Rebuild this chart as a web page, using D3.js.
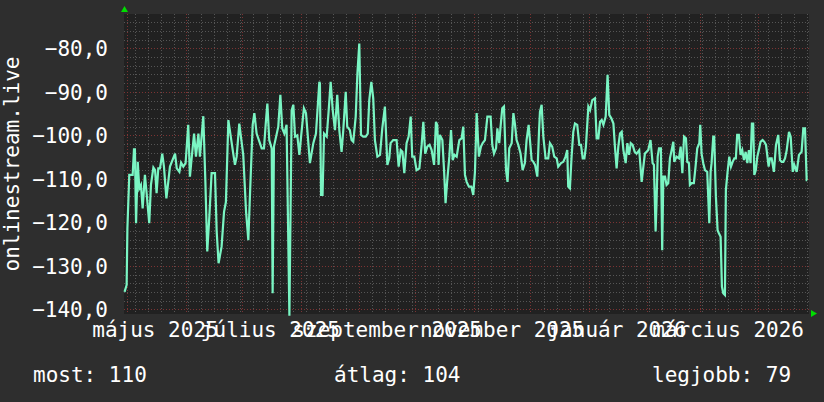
<!DOCTYPE html>
<html>
<head>
<meta charset="utf-8">
<script src="https://cdn.jsdelivr.net/npm/d3@7"></script>
<style>
  html, body { margin: 0; padding: 0; background: #2e2e2e; }
  svg { display: block; }
  text { font-family: "DejaVu Sans Mono", monospace; fill: #ffffff; }
</style>
</head>
<body>
<script>
// ---------------- DATA ----------------
const seriesName = "onlinestream.live";
const windowStart = "2025-04-29T07:00:00Z";
const windowEnd = "2026-04-27T22:00:00Z";
// sample times, in days after windowStart
const dayOffsets = [
  0.3, 1.4, 1.8, 2.8, 4.6, 5.3, 5.8, 6.4, 7.3, 8.1, 9.0, 9.9, 11.1, 12.0, 13.4, 14.3, 15.6, 16.5, 17.3, 18.2,
  19.1, 20.3, 21.2, 22.5, 23.5, 24.4, 27.1, 28.0, 29.4, 30.3, 31.5, 32.7, 34.1, 35.0, 35.9, 37.2, 38.2, 39.5, 40.3, 42.1,
  43.2, 44.2, 45.3, 46.5, 48.3, 49.2, 50.2, 51.8, 53.1, 54.1, 55.4, 58.0, 58.9, 59.8, 61.2, 63.3, 64.8, 66.0, 66.9, 68.3,
  69.2, 70.4, 73.1, 74.3, 75.2, 76.1, 77.1, 78.4, 78.9, 79.6, 81.9, 83.0, 84.0, 85.1, 86.3, 87.8, 89.0, 89.9, 90.8, 92.0,
  93.1, 94.0, 95.5, 96.6, 98.7, 100.5, 101.9, 103.7, 104.0, 104.6, 105.4, 106.2, 107.6, 108.6, 109.7, 110.8, 112.0, 113.2, 114.3, 115.5,
  116.4, 117.7, 118.5, 119.9, 120.8, 121.7, 123.0, 123.9, 124.9, 125.8, 127.0, 128.3, 129.4, 130.2, 131.3, 132.3, 133.2, 134.5, 135.9, 137.1,
  138.5, 139.8, 140.8, 141.5, 142.9, 144.7, 145.8, 146.9, 147.8, 148.8, 150.0, 151.1, 152.2, 153.0, 154.1, 155.3, 156.8, 158.0, 158.9, 159.9,
  161.0, 162.2, 163.3, 164.6, 165.6, 166.3, 167.0, 167.7, 169.0, 169.9, 170.7, 171.6, 172.7, 173.6, 174.5, 175.4, 176.6, 178.0, 179.2, 180.1,
  181.0, 181.9, 183.1, 184.4, 185.4, 186.3, 187.2, 188.4, 189.5, 190.4, 191.6, 192.9, 194.6, 195.5, 196.4, 197.5, 198.2, 199.2, 199.9, 200.8,
  201.7, 202.8, 203.6, 204.5, 205.8, 206.7, 207.5, 208.4, 209.3, 210.5, 211.6, 212.8, 213.7, 214.8, 215.5, 216.4, 217.3, 218.2, 219.4, 220.3,
  220.8, 221.7, 222.6, 223.8, 225.2, 226.1, 227.3, 228.4, 229.7, 230.5, 232.0, 233.2, 234.4, 235.3, 235.8, 236.7, 237.6, 238.5, 239.4, 240.6,
  241.7, 242.6, 243.5, 244.4, 245.2, 246.5, 247.4, 248.6, 250.0, 250.9, 251.8, 252.7, 253.6, 254.5, 255.7, 256.7, 257.6, 258.7, 259.8, 260.6,
  261.5, 262.4, 263.3, 264.2, 265.1, 266.3, 267.2, 268.1, 269.0, 270.0, 271.1, 272.1, 273.5, 274.8, 275.6, 276.5, 277.4, 278.3, 279.5, 280.6,
  281.3, 282.2, 282.7, 283.3, 284.0, 285.0, 285.7, 286.3, 287.2, 288.0, 288.9, 289.8, 290.7, 291.6, 292.1, 293.3, 294.6, 295.5, 296.4, 297.3,
  298.3, 299.0, 299.9, 300.4, 301.3, 302.5, 303.4, 304.3, 305.4, 305.9, 306.6, 307.5, 308.4, 309.6, 310.7, 311.4, 311.9, 312.8, 313.3, 314.2,
  315.1, 315.8, 316.7, 317.4, 318.1, 319.0, 319.5, 320.4, 321.3, 322.2, 323.1, 324.0, 324.8, 325.5, 326.4, 327.3, 328.2, 329.1, 330.0, 330.9,
  331.7, 332.6, 333.3, 334.0, 334.6, 335.4, 336.2, 337.0, 337.9, 339.0, 339.9, 340.8, 342.2, 342.9, 343.8, 345.0, 346.1, 347.3, 348.2, 349.1,
  350.0, 350.9, 351.8, 353.0, 353.9, 355.0, 355.8, 357.1, 358.3, 359.7, 360.6, 361.5, 362.4, 362.7
];
const signal = [
  -136.0, -134.4, -121.4, -109.1, -109.1, -103.2, -103.2, -120.2, -106.1, -112.2, -111.4, -116.8, -109.1, -113.3, -120.2, -111.4, -107.4, -108.0, -113.3, -107.6,
  -107.6, -104.2, -107.2, -114.5, -110.7, -107.2, -104.2, -107.6, -108.4, -106.3, -107.2, -106.4, -97.6, -109.5, -105.3, -99.6, -104.9, -99.6, -104.9, -95.6,
  -110.7, -126.7, -118.7, -108.7, -108.7, -122.1, -129.4, -125.6, -117.6, -115.3, -96.5, -104.2, -106.8, -104.9, -97.3, -104.5, -117.6, -124.1, -113.3, -97.6,
  -94.9, -99.6, -103.0, -103.0, -97.6, -92.7, -101.1, -103.0, -136.3, -102.6, -98.0, -90.7, -98.4, -99.6, -97.6, -141.5, -94.2, -93.0, -100.3, -100.0,
  -104.5, -100.3, -93.8, -94.9, -106.4, -101.8, -99.6, -87.7, -88.1, -113.7, -113.7, -99.6, -100.3, -94.6, -87.7, -94.2, -98.8, -90.7, -98.8, -103.8,
  -98.8, -90.0, -98.0, -98.8, -101.1, -101.5, -95.7, -85.8, -78.9, -99.9, -100.3, -100.3, -99.6, -91.9, -87.7, -91.5, -101.1, -104.9, -104.5, -98.4,
  -93.4, -106.8, -105.3, -101.8, -101.1, -101.1, -107.2, -103.4, -103.8, -108.7, -101.8, -100.3, -95.7, -104.9, -104.9, -108.0, -107.6, -102.2, -96.9, -104.2,
  -102.6, -102.2, -103.4, -106.8, -96.9, -97.6, -106.8, -99.9, -101.1, -108.0, -115.6, -110.3, -104.9, -98.8, -105.7, -104.5, -104.9, -101.1, -100.7, -98.0,
  -109.1, -110.7, -111.8, -111.8, -113.7, -108.4, -94.9, -104.9, -102.6, -101.8, -101.1, -95.7, -95.7, -102.2, -104.2, -103.0, -98.4, -101.8, -98.0, -93.8,
  -93.4, -108.0, -110.7, -103.0, -101.8, -94.9, -97.3, -101.1, -102.2, -104.2, -108.0, -106.4, -101.1, -97.6, -101.1, -105.7, -106.1, -106.8, -109.5, -99.2,
  -94.6, -93.0, -100.3, -105.3, -105.3, -101.8, -102.6, -104.9, -105.3, -107.2, -106.4, -106.1, -104.9, -103.4, -111.8, -112.2, -104.9, -99.2, -97.3, -97.6,
  -102.2, -102.2, -105.3, -105.3, -102.6, -93.4, -94.2, -91.9, -91.5, -100.7, -100.7, -96.9, -96.5, -97.6, -95.7, -86.1, -95.3, -96.1, -97.3, -102.6,
  -107.6, -102.6, -99.6, -99.2, -103.4, -106.4, -101.8, -104.5, -101.8, -102.2, -103.8, -104.2, -103.4, -110.7, -107.6, -104.2, -103.8, -103.4, -101.1, -106.4,
  -106.8, -122.1, -115.3, -104.9, -103.0, -103.0, -126.4, -109.5, -109.5, -111.4, -111.0, -105.3, -103.4, -101.5, -106.1, -104.9, -105.3, -102.6, -108.7, -100.3,
  -100.7, -106.1, -106.4, -111.4, -111.0, -111.0, -107.2, -103.0, -101.8, -97.6, -104.2, -106.4, -108.0, -108.4, -120.2, -108.4, -106.4, -100.3, -100.3, -114.1,
  -121.8, -122.5, -123.3, -134.8, -136.3, -136.7, -112.6, -108.4, -104.9, -107.2, -106.1, -105.3, -105.3, -99.9, -99.9, -104.5, -103.4, -105.7, -103.8, -106.4,
  -103.4, -106.4, -97.3, -97.3, -109.1, -108.0, -104.9, -103.4, -101.5, -101.1, -101.5, -102.2, -107.2, -105.3, -105.3, -108.4, -102.2, -99.9, -105.7, -106.1,
  -106.1, -105.3, -103.4, -99.2, -100.3, -108.4, -106.8, -108.4, -104.5, -103.8, -98.4, -98.4, -110.3, -110.3
];
const yTickValues = [-140, -130, -120, -110, -100, -90, -80];
const xLabelMonths = ["2025-05-01", "2025-07-01", "2025-09-01", "2025-11-01", "2026-01-01", "2026-03-01"];
const xLabelTexts = ["május 2025", "július 2025", "szeptember 2025", "november 2025", "január 2026", "március 2026"];
const legendTexts = ["most: 110", "átlag: 104", "legjobb: 79"];

// ---------------- LAYOUT ----------------
const W = 824, H = 402;
const plot = { left: 124, right: 809, top: 14, bottom: 314 };
const DAY = 86400000;

const t0 = new Date(windowStart), t1 = new Date(windowEnd);
const x = d3.scaleUtc().domain([t0, t1]).range([plot.left, plot.right]);
const y = d3.scaleLinear().domain([-141.08, -72.11]).range([plot.bottom, plot.top]);

const data = dayOffsets.map((d, i) => ({ t: new Date(t0.getTime() + d * DAY), v: signal[i] }));

const svg = d3.select("body").append("svg").attr("width", W).attr("height", H);
svg.append("rect").attr("width", W).attr("height", H).attr("fill", "#2e2e2e");
svg.append("rect")
  .attr("x", plot.left).attr("y", plot.top)
  .attr("width", plot.right - plot.left).attr("height", plot.bottom - plot.top)
  .attr("fill", "#212121");

const grid = svg.append("g").attr("shape-rendering", "crispEdges");
const px = v => Math.round(v) + 0.5;
const minorCol = "#555555", majorCol = "#7c3333";

// minor horizontal (every 2)
d3.range(-140, -72, 2).filter(v => v % 10 !== 0).forEach(v => {
  grid.append("line").attr("x1", plot.left).attr("x2", plot.right)
    .attr("y1", px(y(v))).attr("y2", px(y(v)))
    .attr("stroke", minorCol).attr("stroke-dasharray", "1,2");
});
// minor vertical (weekly, Mondays)
d3.utcMonday.range(t0, t1).forEach(d => {
  grid.append("line").attr("y1", plot.top).attr("y2", plot.bottom)
    .attr("x1", px(x(d))).attr("x2", px(x(d)))
    .attr("stroke", minorCol).attr("stroke-dasharray", "1,2");
});
// major horizontal
yTickValues.forEach(v => {
  grid.append("line").attr("x1", plot.left).attr("x2", plot.right)
    .attr("y1", px(y(v))).attr("y2", px(y(v)))
    .attr("stroke", majorCol).attr("stroke-dasharray", "1,2");
});
// major vertical (months)
d3.utcMonth.range(t0, t1).forEach(d => {
  grid.append("line").attr("y1", plot.top).attr("y2", plot.bottom)
    .attr("x1", px(x(d))).attr("x2", px(x(d)))
    .attr("stroke", majorCol).attr("stroke-dasharray", "1,2");
});

// data line
const line = d3.line().x(d => x(d.t)).y(d => y(d.v));
svg.append("path").datum(data)
  .attr("d", line)
  .attr("fill", "none")
  .attr("stroke", "#7af5c3")
  .attr("stroke-width", 2.2)
  .attr("stroke-linejoin", "miter");

// axis arrows
const arrowCol = "#00dd00";
svg.append("path").attr("fill", arrowCol)
  .attr("d", `M${plot.left - 3},${plot.top - 2} L${plot.left + 4},${plot.top - 2} L${plot.left + 0.5},${plot.top - 8} Z`);
svg.append("path").attr("fill", arrowCol)
  .attr("d", `M${plot.right + 2},${plot.bottom - 4} L${plot.right + 2},${plot.bottom + 3} L${plot.right + 8},${plot.bottom - 0.5} Z`);

// y tick labels
svg.append("g").selectAll("text").data(yTickValues).join("text")
  .attr("x", 108).attr("y", d => y(d) + 8)
  .attr("text-anchor", "end").attr("font-size", 21)
  .text(d => d3.format(".1f")(d).replace(".", ","));

// x labels: centered half a month after the month start
svg.append("g").selectAll("text").data(xLabelMonths).join("text")
  .attr("x", d => x(new Date(new Date(d + "T00:00:00Z").getTime() + 15 * DAY)))
  .attr("y", 337)
  .attr("text-anchor", "middle").attr("font-size", 21)
  .text((d, i) => xLabelTexts[i]);

// y title
svg.append("text")
  .attr("transform", "translate(19,164) rotate(-90)")
  .attr("text-anchor", "middle").attr("font-size", 21)
  .text(seriesName);

// legend
const legendX = [33, 334, 652];
svg.append("g").selectAll("text").data(legendTexts).join("text")
  .attr("x", (d, i) => legendX[i]).attr("y", 382)
  .attr("font-size", 21)
  .text(d => d);
</script>
</body>
</html>
